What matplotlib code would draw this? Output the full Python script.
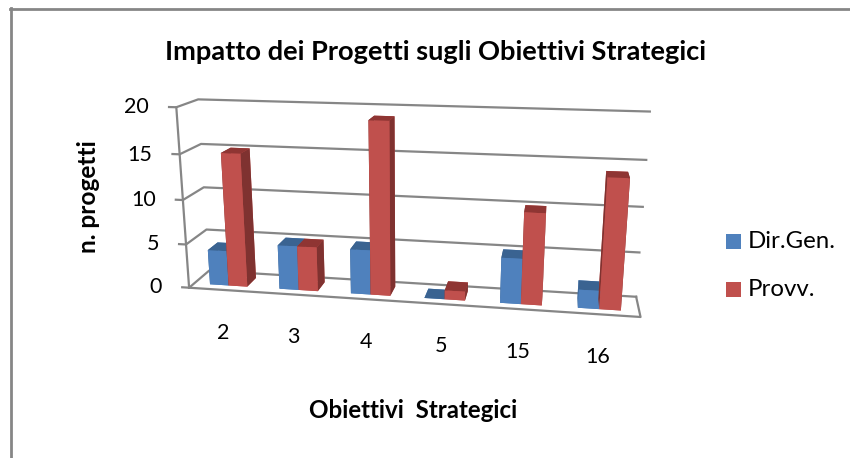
import numpy as np
import matplotlib
matplotlib.use("Agg")
import matplotlib.pyplot as plt
from matplotlib.lines import Line2D
from matplotlib.patches import Rectangle

categories = ["2", "3", "4", "5", "15", "16"]
dir_gen = [4, 5, 5, 0, 5, 2]
provv = [15, 5, 19, 1, 10, 14]
y_ticks = [0, 5, 10, 15, 20]

W, H = 850, 458
plt.rcParams['font.family'] = ['Lato', 'DejaVu Sans']
fig = plt.figure(figsize=(W/100, H/100), dpi=100)

# camera fitted to the reference's perspective
cx, cy, side = 404.2085, 208.8034, 400
ax = fig.add_axes([(cx-side/2)/W, 1-(cy+side/2)/H, side/W, side/H], projection='3d')
ax.patch.set_alpha(0)
ax.set_xlim(0, 6, view_margin=0); ax.set_ylim(0, 1, view_margin=0); ax.set_zlim(0, 20, view_margin=0)
ax.set_axis_off()
ax.view_init(elev=15.2505, azim=-80.1985, roll=-0.0232)
ax.set_proj_type('persp', focal_length=0.4007)
ax.set_box_aspect((3.6224, 0.4233, 1.4995), zoom=1.2084)

ax.computed_zorder = False
grid = '#868686'
for v in y_ticks:
    ax.plot([-0.1, 0, 0, 6], [0, 0, 1, 1], [v, v, v, v], color=grid, lw=1.6, zorder=1, clip_on=False)
ax.plot([0, 0], [0, 0], [0, 20], color=grid, lw=1.6, zorder=1, clip_on=False)
ax.plot([0, 6, 6], [0, 0, 1], [0, 0, 0], color=grid, lw=1.6, zorder=1, clip_on=False)

def shades(base, top, side_col):
    return [base, top, base, base, side_col, side_col]
xs, cols, dz = [], [], []
bw = 0.27
for i in range(6):
    xs += [i+0.5-bw, i+0.5]
    dz += [dir_gen[i], provv[i]]
    cols += shades('#4F81BD', '#3A6391', '#3A6391') + shades('#C0504D', '#8F3533', '#7F3230')
bars = ax.bar3d(xs, [0.25]*12, [0]*12, bw, 0.5, dz, color=cols, shade=False, zorder=2)
bars.set_clip_on(False)

def ptext(x, y, s, **kw):
    fig.text(x/W, 1-y/H, s, **kw)
ptext(435.5, 52, "Impatto dei Progetti sugli Obiettivi Strategici", fontsize=19.6, fontweight='bold', ha='center', va='center')
ptext(413, 411, "Obiettivi  Strategici", fontsize=17.4, fontweight='bold', ha='center', va='center')
ptext(89, 197, "n. progetti", fontsize=17.6, fontweight='bold', rotation=90, ha='center', va='center')
for lab, x, y in zip(y_ticks, [162, 159, 156, 152, 149], [287, 244, 200, 155, 107]):
    ptext(x, y, str(lab), fontsize=15.5, ha='right', va='center')
for lab, x, y in zip(categories, [223, 293, 366, 441, 518, 598], [333, 337, 342, 346, 352, 357]):
    ptext(x, y, lab, fontsize=15.5, ha='center', va='center')
for lab, c, y, ys in zip(["Dir.Gen.", "Provv."], ['#4F81BD', '#C0504D'], [242, 290], [241, 289.5]):
    fig.add_artist(Rectangle((726/W, 1-(ys+7.5)/H), 15/W, 15/H, color=c, lw=0, transform=fig.transFigure))
    ptext(748, y, lab, fontsize=17.3, ha='left', va='center')
fig.add_artist(Line2D([10.5/W, 10.5/W], [0, 1-8/H], color=grid, lw=2))
fig.add_artist(Line2D([9.5/W, 1], [1-9/H, 1-9/H], color=grid, lw=2))
fig.savefig("out.png", dpi=100)
